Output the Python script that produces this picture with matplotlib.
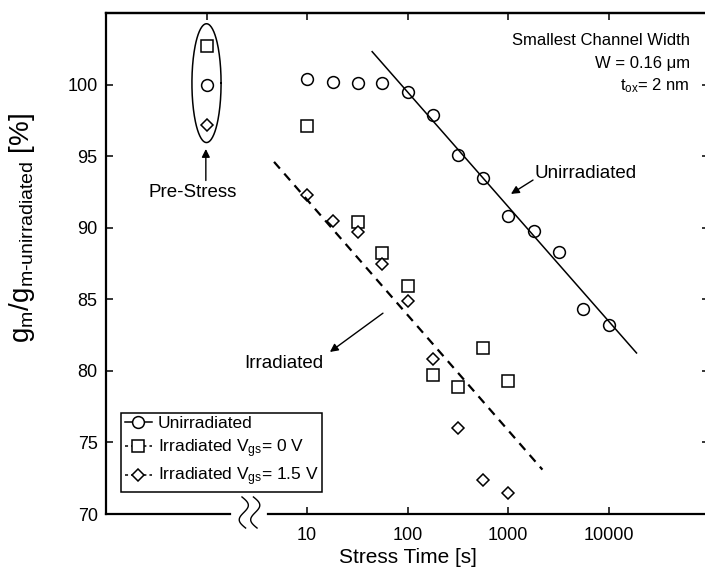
import numpy as np
import matplotlib
matplotlib.use("Agg")
import matplotlib.pyplot as plt
from matplotlib.ticker import NullLocator

plt.rcParams['font.family'] = ['Liberation Sans', 'DejaVu Sans']
plt.rcParams['mathtext.fontset'] = 'custom'
plt.rcParams['mathtext.rm'] = 'Liberation Sans'
plt.rcParams['mathtext.it'] = 'Liberation Sans:italic'

# stress times [s]
t_unirr = [10, 18, 32, 56, 100, 180, 320, 560, 1000, 1800, 3200, 5600, 10000]
gm_unirr = [100.4, 100.2, 100.1, 100.1, 99.5, 97.9, 95.1, 93.5, 90.8, 89.8, 88.3, 84.3, 83.2]

t_irr0 = [10, 32, 56, 100, 180, 320, 560, 1000]
gm_irr0 = [97.1, 90.4, 88.2, 85.9, 79.7, 78.9, 81.6, 79.3]

t_irr15 = [10, 18, 32, 56, 100, 180, 320, 560, 1000]
gm_irr15 = [92.3, 90.5, 89.7, 87.5, 84.9, 80.8, 76.0, 72.4, 71.5]

# pre-stress values, drawn at t = 1
t_pre = 1
gm_pre = [100.0, 102.7, 97.2]   # unirradiated, Vgs=0, Vgs=1.5

# trend lines (end points)
fit_unirr_t = [44.5, 19000]
fit_unirr_gm = [102.3, 81.25]
fit_irr_t = [4.7, 2200]
fit_irr_gm = [94.6, 73.1]

xticks = [10, 100, 1000, 10000]
xtick_labels = ['10', '100', '1000', '10000']
yticks = [70, 75, 80, 85, 90, 95, 100]

fig = plt.figure(figsize=(7.05, 5.71), dpi=100)
ax = fig.add_axes([106 / 705, 57 / 571, 603 / 705, 501 / 571])

mk = dict(mfc='white', mec='black', mew=1.1, color='black')
ax.plot(t_unirr, gm_unirr, 'o', ms=8.5, ls='none', **mk)
ax.plot(t_irr0, gm_irr0, 's', ms=8.5, ls='none', **mk)
ax.plot(t_irr15, gm_irr15, 'D', ms=6, ls='none', **mk)
ax.plot([t_pre], [gm_pre[0]], 'o', ms=8.5, **mk)
ax.plot([t_pre], [gm_pre[1]], 's', ms=8.5, **mk)
ax.plot([t_pre], [gm_pre[2]], 'D', ms=6, **mk)

ax.plot(fit_unirr_t, fit_unirr_gm, '-', color='black', lw=1.1)
ax.plot(fit_irr_t, fit_irr_gm, '--', color='black', lw=1.6, dashes=(4, 3))

# ellipse round the pre-stress points (log space in x)
th = np.linspace(0, 2 * np.pi, 200)
ax.plot(10 ** (0.145 * np.cos(th)), 100.1 + 4.15 * np.sin(th), color='black', lw=1.1)

ax.set_xscale('log')
ax.set_xlim(0.1, 1e5)
ax.set_ylim(70, 105)
ax.set_xticks(xticks)
ax.set_xticklabels(xtick_labels)
ax.set_yticks(yticks)
ax.xaxis.set_minor_locator(NullLocator())
ax.tick_params(axis='both', direction='in', length=5, width=1.1, labelsize=13)
ax.tick_params(axis='x', pad=9)
ax.tick_params(axis='y', pad=6, right=True)

top = ax.secondary_xaxis('top')
top.set_xticks([1, 10, 100, 1000, 10000])
top.xaxis.set_minor_locator(NullLocator())
top.tick_params(direction='in', length=5, width=1.1, labeltop=False)
top.spines['top'].set_linewidth(1.6)

for s in ['left', 'top', 'right']:
    ax.spines[s].set_linewidth(1.6)

# bottom axis with a break between the pre-stress column and t = 10
ax.spines['bottom'].set_visible(False)
ax.plot([0, 0.2056], [0, 0], color='black', lw=1.6, transform=ax.transAxes, clip_on=False)
ax.plot([0.2687, 1], [0, 0], color='black', lw=1.6, transform=ax.transAxes, clip_on=False)
s = np.linspace(0, 1, 60)
for xc in [0.2285, 0.2475]:
    bx = xc + 0.009 * np.sin(2 * np.pi * s) + 0.006 * (s - 0.5)
    by = 0.034 - 0.062 * s
    ax.plot(bx, by, color='black', lw=1.0, transform=ax.transAxes, clip_on=False)

ax.set_xlabel('Stress Time [s]', fontsize=15)
ax.set_ylabel(r'$\mathrm{g_m/g}_{\text{m-unirradiated}}$ [%]', fontsize=20)
ax.yaxis.set_label_coords(-0.115, 0.571)
ax.xaxis.set_label_coords(0.5, -0.068)

ax.text(0.9685, 0.946, 'Smallest Channel Width', transform=ax.transAxes,
        ha='right', va='center', fontsize=12)
ax.text(0.9685, 0.900, 'W = 0.16 μm', transform=ax.transAxes,
        ha='right', va='center', fontsize=12)
ax.text(0.9685, 0.854, r't$_{\mathrm{ox}}$= 2 nm', transform=ax.transAxes,
        ha='right', va='center', fontsize=12)

arw = dict(arrowstyle='-|>', color='black', lw=1.0, mutation_scale=12, shrinkA=0, shrinkB=0)
ax.annotate('', xy=(0.985, 95.5), xytext=(0.985, 93.3), arrowprops=arw)
ax.text(0.734, 92.43, 'Pre-Stress', ha='center', va='center', fontsize=13.5)
ax.annotate('', xy=(1070, 92.36), xytext=(1774, 93.33), arrowprops=arw)
ax.text(5970, 93.82, 'Unirradiated', ha='center', va='center', fontsize=13.5)
ax.annotate('', xy=(16.9, 81.32), xytext=(57, 84.03), arrowprops=arw)
ax.text(5.84, 80.49, 'Irradiated', ha='center', va='center', fontsize=13.5)

h1, = ax.plot([], [], '-o', ms=8.5, lw=1.1, **mk)
h2, = ax.plot([], [], 's', ms=8.5, ls=(0, (2, 2)), lw=1.1, **mk)
h3, = ax.plot([], [], 'D', ms=6, ls=(0, (2, 2)), lw=1.1, **mk)
leg = ax.legend([h1, h2, h3],
                ['Unirradiated', r'Irradiated V$_{\mathrm{gs}}$= 0 V',
                 r'Irradiated V$_{\mathrm{gs}}$= 1.5 V'],
                loc='lower left', bbox_to_anchor=(0.025, 0.044), borderaxespad=0,
                fontsize=12.5, handlelength=1.6, handletextpad=0.3, labelspacing=0.35,
                borderpad=0.2, fancybox=False, framealpha=1, edgecolor='black')
leg.get_frame().set_linewidth(1.1)

fig.savefig('out.png', dpi=100)
